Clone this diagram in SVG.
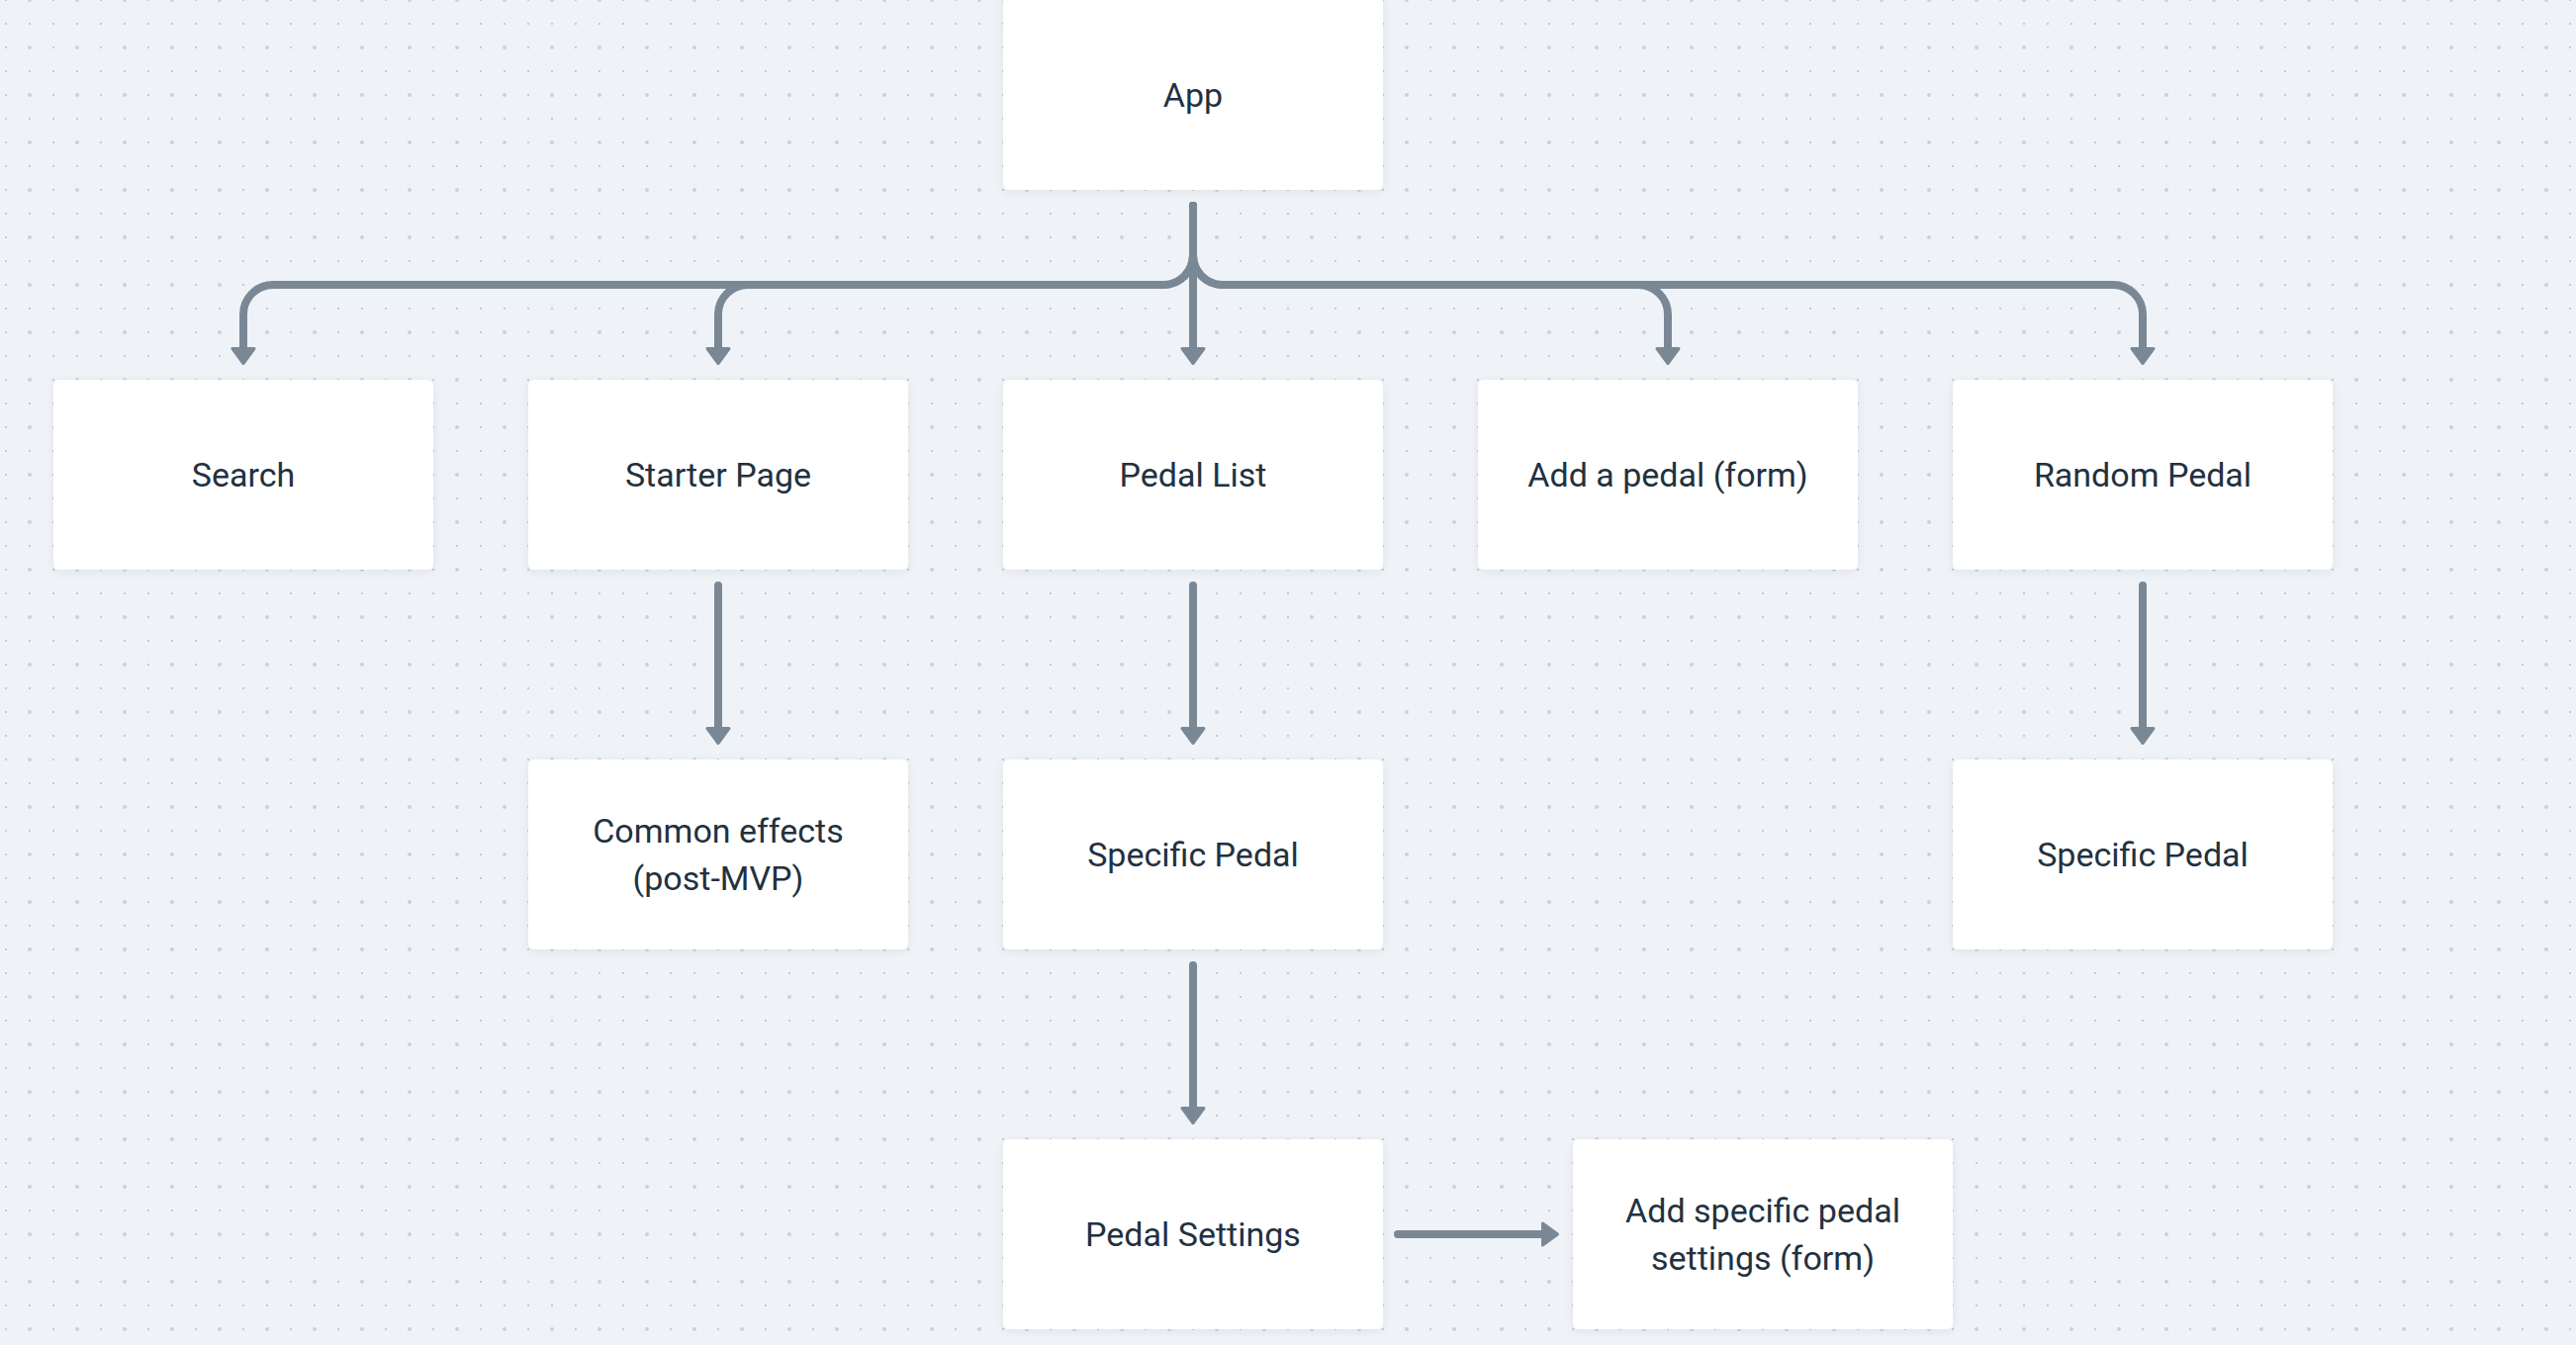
<svg xmlns="http://www.w3.org/2000/svg" width="2604" height="1360" viewBox="0 0 2604 1360">
  <style>
    .node rect { fill: #ffffff; filter: url(#shadow); }
    .node text { font-family: Roboto, "Liberation Sans", sans-serif; font-size: 34px; font-weight: 400; fill: #223140; text-anchor: middle; }
    .edge { fill: none; stroke: #7a8896; stroke-width: 8; stroke-linecap: round; stroke-linejoin: round; marker-end: url(#arrow); }
  </style>
  <defs>
    <pattern id="dots" patternUnits="userSpaceOnUse" x="6" y="0" width="48" height="48">
      <rect x="-1" y="-1" width="2" height="2" fill="#c4cbd5"/>
      <rect x="47" y="-1" width="2" height="2" fill="#c4cbd5"/>
      <rect x="-1" y="47" width="2" height="2" fill="#c4cbd5"/>
      <rect x="47" y="47" width="2" height="2" fill="#c4cbd5"/>
      <rect x="23" y="23" width="2" height="2" fill="#c4cbd5"/>
      <rect x="-1" y="23" width="2" height="2" fill="#c4cbd5"/>
      <rect x="47" y="23" width="2" height="2" fill="#c4cbd5"/>
      <circle cx="24" cy="0" r="2" fill="#c9d1dc"/>
      <circle cx="24" cy="48" r="2" fill="#c9d1dc"/>
    </pattern>
    <filter id="shadow" x="-10%" y="-10%" width="120%" height="130%">
      <feDropShadow dx="0" dy="2" stdDeviation="4" flood-color="#1e2d3c" flood-opacity="0.07"/>
    </filter>
    <marker id="arrow" markerUnits="userSpaceOnUse" viewBox="-3 -14 22 28" markerWidth="22" markerHeight="28" refX="4.5" refY="0" orient="auto">
      <path d="M0,-11 L15,0 L0,11 Z" fill="#7a8896" stroke="#7a8896" stroke-width="3" stroke-linejoin="round"/>
    </marker>
  </defs>

  <rect width="2604" height="1360" fill="#eff3f7"/>
  <rect width="2604" height="1360" fill="url(#dots)"/>

  <g id="connectors">
    <path class="edge" d="M1206,208 V258 A30,30 0 0 1 1176,288 H276 A30,30 0 0 0 246,318 V357"/>
    <path class="edge" d="M1206,208 V258 A30,30 0 0 1 1176,288 H756 A30,30 0 0 0 726,318 V357"/>
    <path class="edge" d="M1206,208 V357"/>
    <path class="edge" d="M1206,208 V258 A30,30 0 0 0 1236,288 H1656 A30,30 0 0 1 1686,318 V357"/>
    <path class="edge" d="M1206,208 V258 A30,30 0 0 0 1236,288 H2136 A30,30 0 0 1 2166,318 V357"/>
    <path class="edge" d="M726,592 V741"/>
    <path class="edge" d="M1206,592 V741"/>
    <path class="edge" d="M2166,592 V741"/>
    <path class="edge" d="M1206,976 V1125"/>
    <path class="edge" d="M1413,1248 H1564"/>
  </g>

  <g id="app" class="node">
    <rect x="1014" y="-6" width="384" height="198" rx="6"/>
    <text x="1206" y="108">App</text>
  </g>
  <g id="search" class="node">
    <rect x="54" y="384" width="384" height="192" rx="6"/>
    <text x="246" y="492">Search</text>
  </g>
  <g id="starter-page" class="node">
    <rect x="534" y="384" width="384" height="192" rx="6"/>
    <text x="726" y="492">Starter Page</text>
  </g>
  <g id="pedal-list" class="node">
    <rect x="1014" y="384" width="384" height="192" rx="6"/>
    <text x="1206" y="492">Pedal List</text>
  </g>
  <g id="add-pedal" class="node">
    <rect x="1494" y="384" width="384" height="192" rx="6"/>
    <text x="1686" y="492">Add a pedal (form)</text>
  </g>
  <g id="random-pedal" class="node">
    <rect x="1974" y="384" width="384" height="192" rx="6"/>
    <text x="2166" y="492">Random Pedal</text>
  </g>
  <g id="common-effects" class="node">
    <rect x="534" y="768" width="384" height="192" rx="6"/>
    <text x="726" y="852">Common effects</text>
    <text x="726" y="900">(post-MVP)</text>
  </g>
  <g id="specific-pedal-1" class="node">
    <rect x="1014" y="768" width="384" height="192" rx="6"/>
    <text x="1206" y="876">Specific Pedal</text>
  </g>
  <g id="specific-pedal-2" class="node">
    <rect x="1974" y="768" width="384" height="192" rx="6"/>
    <text x="2166" y="876">Specific Pedal</text>
  </g>
  <g id="pedal-settings" class="node">
    <rect x="1014" y="1152" width="384" height="192" rx="6"/>
    <text x="1206" y="1260">Pedal Settings</text>
  </g>
  <g id="add-specific-settings" class="node">
    <rect x="1590" y="1152" width="384" height="192" rx="6"/>
    <text x="1782" y="1236">Add specific pedal</text>
    <text x="1782" y="1284">settings (form)</text>
  </g>
</svg>
